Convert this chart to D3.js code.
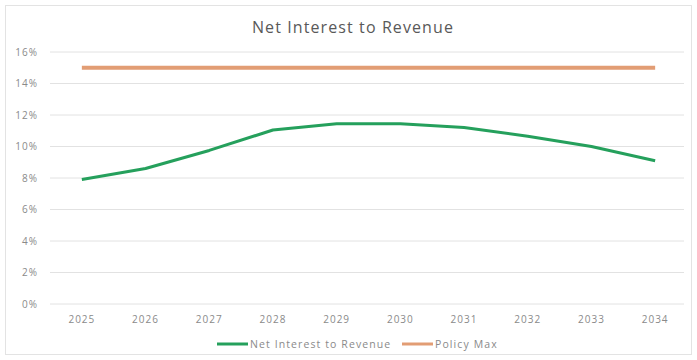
<!DOCTYPE html>
<html>
<head>
<meta charset="utf-8">
<script src="https://cdn.jsdelivr.net/npm/d3@7"></script>
<style>
  html, body { margin: 0; padding: 0; background: #fff; }
  svg { display: block; font-family: "Open Sans", "Liberation Sans", sans-serif; }
</style>
</head>
<body>
<svg id="chart" width="697" height="360"></svg>
<script>
// Net interest as a share of revenue, by fiscal year
const years = ["2025", "2026", "2027", "2028", "2029", "2030", "2031", "2032", "2033", "2034"];
const netInterest = [7.9, 8.6, 9.75, 11.05, 11.45, 11.45, 11.2, 10.65, 10.0, 9.1];
const policyMax = [15, 15, 15, 15, 15, 15, 15, 15, 15, 15];
const yTicks = [0, 2, 4, 6, 8, 10, 12, 14, 16];
const seriesNames = ["Net Interest to Revenue", "Policy Max"];
const seriesColors = ["#25a05c", "#e29d74"];

const svg = d3.select("#chart");
const W = 697, H = 360;
const margin = { left: 50, right: 10, top: 52, bottom: 56 };
const gridRight = 684;

// chart frame
svg.append("rect")
  .attr("x", 5.5).attr("y", 5.5)
  .attr("width", W - 11).attr("height", H - 11)
  .attr("fill", "#fff").attr("stroke", "#e3e3e3");

svg.append("text")
  .attr("x", 353).attr("y", 33)
  .attr("text-anchor", "middle")
  .attr("font-size", 16)
  .attr("letter-spacing", 1.1)
  .attr("fill", "#595959")
  .text("Net Interest to Revenue");

const x = d3.scaleBand().domain(years).range([margin.left, W - margin.right]);
const y = d3.scaleLinear().domain([0, 16]).range([H - margin.bottom, margin.top]);

// horizontal gridlines
svg.append("g").selectAll("line").data(yTicks).join("line")
  .attr("x1", margin.left).attr("x2", gridRight)
  .attr("y1", d => y(d)).attr("y2", d => y(d))
  .attr("stroke", "#e2e2e2").attr("stroke-width", 1);

const styleTicks = g => g.selectAll("text")
  .attr("fill", "#8a8a8a").attr("font-size", 10)
  .attr("letter-spacing", 1)
  .attr("font-family", "Open Sans, sans-serif");

// y axis labels
const yAxis = d3.axisLeft(y).tickValues(yTicks).tickFormat(d => d + "%").tickSize(0).tickPadding(12);
svg.append("g").attr("transform", `translate(${margin.left},0)`).call(yAxis)
  .call(g => g.select(".domain").remove())
  .call(styleTicks);

// x axis labels
const xAxis = d3.axisBottom(x).tickSize(0).tickPadding(12);
svg.append("g").attr("transform", `translate(0,${H - margin.bottom})`).call(xAxis)
  .call(g => g.select(".domain").remove())
  .call(styleTicks);

const line = d3.line()
  .x((d, i) => x(years[i]) + x.bandwidth() / 2)
  .y(d => y(d));

svg.append("path").datum(policyMax)
  .attr("d", line).attr("fill", "none")
  .attr("stroke", seriesColors[1]).attr("stroke-width", 4);

svg.append("path").datum(netInterest)
  .attr("d", line).attr("fill", "none")
  .attr("stroke", seriesColors[0]).attr("stroke-width", 3)
  .attr("stroke-linejoin", "round");

// legend
const legend = svg.append("g");
const items = [{ x: 217, name: seriesNames[0], color: seriesColors[0] },
               { x: 402, name: seriesNames[1], color: seriesColors[1] }];
items.forEach(it => {
  legend.append("line")
    .attr("x1", it.x).attr("x2", it.x + 31)
    .attr("y1", 344).attr("y2", 344)
    .attr("stroke", it.color).attr("stroke-width", 3);
  legend.append("text")
    .attr("x", it.x + 33).attr("y", 347.5)
    .attr("fill", "#8a8a8a")
    .attr("font-size", 10.5)
    .attr("letter-spacing", 1.1)
    .text(it.name);
});
</script>
</body>
</html>
